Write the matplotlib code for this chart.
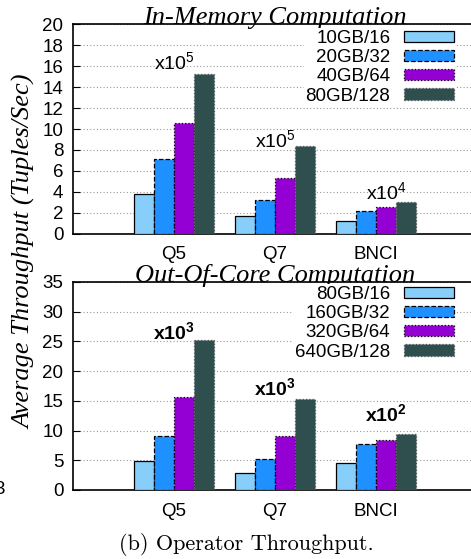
import matplotlib.pyplot as plt
import numpy as np

plt.rcParams['font.family'] = ['Liberation Sans', 'DejaVu Sans']
plt.rcParams['mathtext.default'] = 'regular'

# Data
queries = ["Q5", "Q7", "BNCI"]

mem_labels = ["10GB/16", "20GB/32", "40GB/64", "80GB/128"]
mem_values = [
    [3.75, 1.7, 1.2],
    [7.1, 3.2, 2.17],
    [10.6, 5.3, 2.58],
    [15.3, 8.4, 3.03],
]
mem_scale = ["5", "5", "4"]
mem_scale_y = [16.4, 8.95, 4.0]

ooc_labels = ["80GB/16", "160GB/32", "320GB/64", "640GB/128"]
ooc_values = [
    [4.95, 2.8, 4.6],
    [9.1, 5.2, 7.7],
    [15.7, 9.15, 8.4],
    [25.2, 15.3, 9.5],
]
ooc_scale = ["3", "3", "2"]
ooc_scale_y = [26.6, 17.2, 12.8]

colors = ["#87CEFA", "#1E90FF", "#9400D3", "#2F4F4F"]
edge_styles = ["-", "--", ":", ":"]
edge_colors = ["black", "black", "black", "#555555"]

fig = plt.figure(figsize=(4.71, 5.59), dpi=100)
W, H = 471, 559


def make_axes(top_px, bottom_px):
    left = 73 / W
    width = 404 / W
    return fig.add_axes([left, 1 - bottom_px / H, width, (bottom_px - top_px) / H])


def draw_panel(ax, values, labels, scales, scale_y, ymax, ystep, title, bold, legend_top):
    x = np.arange(1, len(queries) + 1)
    bw = 0.2
    for i, vals in enumerate(values):
        ax.bar(x + (i - 1.5) * bw, vals, bw, color=colors[i],
               edgecolor=edge_colors[i], linewidth=0.9,
               linestyle=edge_styles[i], label=labels[i], zorder=3)
    ax.set_xlim(0, 4)
    ax.set_ylim(0, ymax)
    ax.set_yticks(np.arange(0, ymax + 1, ystep))
    ax.set_xticks(x)
    ax.set_xticklabels(queries)
    ax.tick_params(axis='y', direction='in', length=5, pad=7, labelsize=13.5)
    ax.tick_params(axis='x', length=0, pad=9, labelsize=13.5)
    ax.yaxis.grid(True, linestyle=(0, (1, 2)), color='#999999', linewidth=0.8, zorder=0)
    ax.set_axisbelow(True)
    for s in ['left', 'bottom', 'top']:
        ax.spines[s].set_linewidth(1.2)
    ax.spines['right'].set_visible(False)

    for xi, sc, yv in zip(x, scales, scale_y):
        dx = 0.1 if xi == 3 else 0.0
        ax.text(xi + dx, yv, "x10$^{%s}$" % sc, ha='center', va='center',
                fontsize=14, fontweight='bold' if bold else 'normal', zorder=4)

    ax.text(0.5, 1.0, title, transform=ax.transAxes, ha='center', va='baseline',
            family='Liberation Serif', style='italic', fontsize=19)

    leg = ax.legend(loc='upper right', bbox_to_anchor=(456 / W, 1 - legend_top / H),
                    bbox_transform=fig.transFigure, markerfirst=False,
                    frameon=True, fancybox=False, edgecolor='none', framealpha=1,
                    fontsize=13.5, handlelength=2.7, handleheight=0.55,
                    handletextpad=0.7, labelspacing=0.12, borderpad=0.1,
                    borderaxespad=0)
    for t in leg.get_texts():
        t.set_ha('right')
    leg.set_zorder(5)


ax1 = make_axes(24.3, 233.7)
draw_panel(ax1, mem_values, mem_labels, mem_scale, mem_scale_y, 20, 2,
           "In-Memory Computation", False, 28)

ax2 = make_axes(282, 490)
draw_panel(ax2, ooc_values, ooc_labels, ooc_scale, ooc_scale_y, 35, 5,
           "Out-Of-Core Computation", True, 284)

fig.text(25 / W, 1 - 252 / H, "Average Throughput (Tuples/Sec)", rotation=90,
         ha='center', va='center', family='Liberation Serif', style='italic', fontsize=19)

fig.text(246 / W, 1 - 545 / H, "(b) Operator Throughput.", ha='center', va='center',
         family='cmr10', fontsize=16)

fig.text(-6 / W, 1 - 489 / H, "3", ha='left', va='center', fontsize=13.5)

fig.savefig("out.png", dpi=100)
